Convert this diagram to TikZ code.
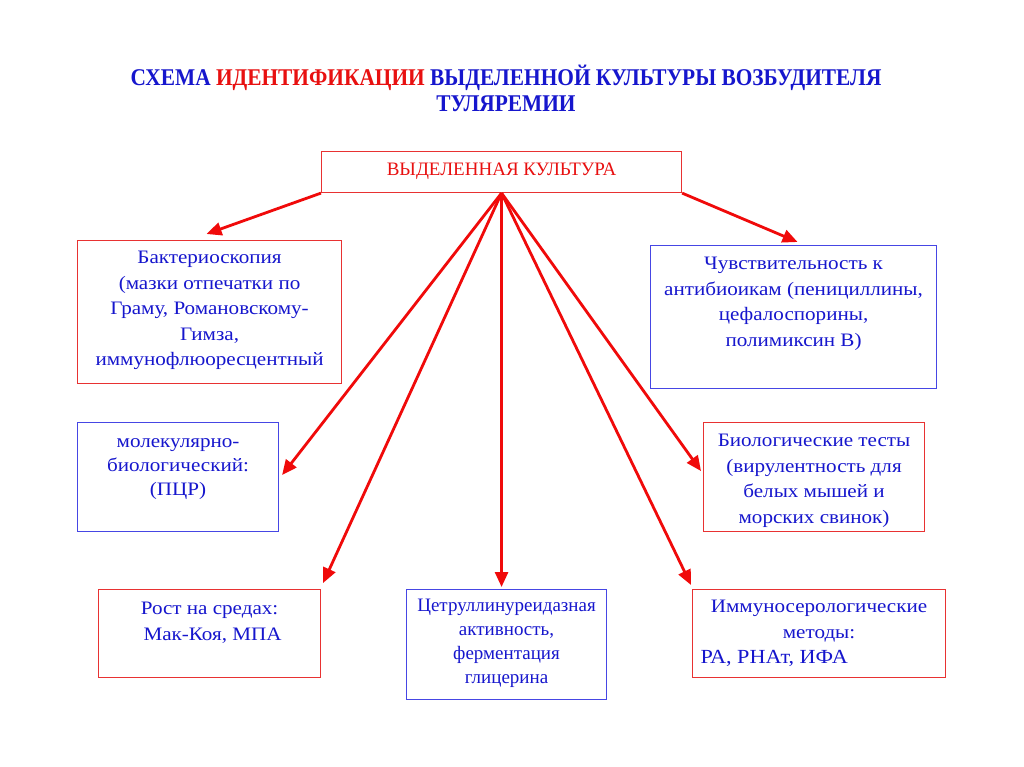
\documentclass[tikz,border=0pt]{standalone}
\usepackage{fontspec}
\setmainfont{Liberation Serif}
\newfontfamily\titlefont[FakeStretch=0.89]{Liberation Serif}
\newfontfamily\boxfont[FakeStretch=1.11]{Liberation Serif}
\usetikzlibrary{arrows.meta}
\definecolor{tred}{RGB}{232,16,16}
\definecolor{tblue}{RGB}{22,22,205}
\definecolor{bred}{RGB}{232,50,50}
\definecolor{bblue}{RGB}{70,70,228}
\definecolor{ared}{RGB}{240,10,10}
\begin{document}
\begin{tikzpicture}[x=1pt,y=-1pt,
  boxr/.style={draw=bred, line width=1.1pt, anchor=north west, inner sep=0pt},
  boxb/.style={draw=bblue, line width=1.1pt, anchor=north west, inner sep=0pt},
  txt/.style={anchor=north, inner sep=0pt, text=tblue, align=center,
    font=\boxfont\fontsize{19}{25.5}\selectfont, execute at begin node=\strut},
  txtb/.style={txt, font=\boxfont\fontsize{19}{24}\selectfont},
  txtc/.style={txt, font=\rmfamily\fontsize{19}{24}\selectfont},
  ttl/.style={anchor=base, inner sep=0pt, text=tblue, font=\titlefont\bfseries\fontsize{24}{26}\selectfont},
  arr/.style={draw=ared, line width=2.8pt, -{Triangle[length=15pt,width=13pt]}}]
\useasboundingbox (0,0) rectangle (1024,767);
\fill[white] (0,0) rectangle (1024,767);

% title
\node[ttl] (t1) at (506,86) {СХЕМА \textcolor{tred}{ИДЕНТИФИКАЦИИ} ВЫДЕЛЕННОЙ КУЛЬТУРЫ ВОЗБУДИТЕЛЯ};
\node[ttl] (t2) at (506,112) {ТУЛЯРЕМИИ};

% boxes
\node[boxr, minimum width=360pt, minimum height=41pt] (top) at (321,151) {};
\node[anchor=base, inner sep=0pt, text=tred, font=\fontsize{19}{22}\selectfont] (toplbl) at ([yshift=-24.5pt]top.north) {ВЫДЕЛЕННАЯ КУЛЬТУРА};

\node[boxr, minimum width=264pt, minimum height=143pt] (bact) at (77,240) {};
\node[boxb, minimum width=286pt, minimum height=143pt] (chuv) at (650,245) {};
\node[boxb, minimum width=201pt, minimum height=109pt] (molec) at (77,422) {};
\node[boxr, minimum width=221pt, minimum height=109pt] (biol) at (703,422) {};
\node[boxr, minimum width=222pt, minimum height=88pt] (rost) at (98,589) {};
\node[boxb, minimum width=200pt, minimum height=110pt] (cetr) at (406,589) {};
\node[boxr, minimum width=253pt, minimum height=88pt] (immu) at (692,589) {};

\node[txt] (bactt) at ([yshift=-11pt]bact.north) {Бактериоскопия\\(мазки отпечатки по\\Граму, Романовскому-\\Гимза,\\иммунофлюоресцентный};
\node[txt] (chuvt) at ([yshift=-12pt]chuv.north) {Чувствительность к\\антибиоикам (пенициллины,\\цефалоспорины,\\полимиксин В)};
\node[txtb] (molect) at ([yshift=-16pt]molec.north) {молекулярно-\\биологический:\\(ПЦР)};
\node[txt] (biolt) at ([yshift=-12pt]biol.north) {Биологические тесты\\(вирулентность для\\белых мышей и\\морских свинок)};
\node[txt] (rostt) at ([yshift=-13pt]rost.north) {Рост на средах:\\\hspace*{6pt}Мак-Коя, МПА};
\node[txtc] (cetrt) at ([yshift=-10pt]cetr.north) {Цетруллинуреидазная\\активность,\\ферментация\\глицерина};
\node[txt] (immut) at ([yshift=-11pt]immu.north) {Иммуносерологические\\методы:\\\makebox[237pt][l]{\fontsize{20}{26}\selectfont РА, РНАт, ИФА}};

% arrows
\draw[arr] (top.south west) -- ([shift={(-3,-6)}]bact.north);
\draw[arr] (top.south east) -- ([shift={(4,-3)}]chuv.north);
\draw[arr] (top.south) -- ([shift={(3,-2)}]molec.east);
\draw[arr] (top.south) -- ([shift={(2,-6)}]rost.north east);
\draw[arr, shorten >=2pt] (top.south) -- (top.south |- cetr.north);
\draw[arr] (top.south) -- ([shift={(-1,-4)}]immu.north west);
\draw[arr] (top.south) -- ([shift={(-2,-6)}]biol.west);
\end{tikzpicture}
\end{document}
